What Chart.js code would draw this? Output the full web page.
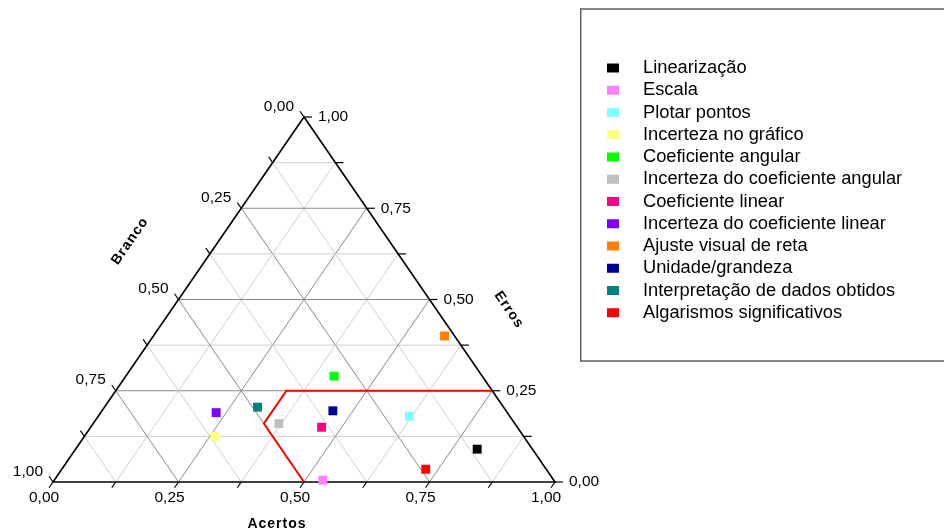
<!DOCTYPE html>
<html>
<head>
<meta charset="utf-8">
<script src="https://cdn.jsdelivr.net/npm/chart.js@4"></script>
<style>
  html, body { margin: 0; padding: 0; background: #ffffff; }
  #wrap { width: 944px; height: 532px; position: relative; }
</style>
</head>
<body>
<div id="wrap"><canvas id="chart" width="944" height="532"></canvas></div>
<script>
// Ternary composition per topic: fraction of right answers, wrong answers and blanks
const categories = [
  'Linearização', 'Escala', 'Plotar pontos', 'Incerteza no gráfico',
  'Coeficiente angular', 'Incerteza do coeficiente angular', 'Coeficiente linear',
  'Incerteza do coeficiente linear', 'Ajuste visual de reta', 'Unidade/grandeza',
  'Interpretação de dados obtidos', 'Algarismos significativos'
];
const acertos = [0.80, 0.535, 0.62, 0.26, 0.415, 0.37, 0.46, 0.23, 0.58, 0.46, 0.305, 0.725];
const erros   = [0.09, 0.005, 0.18, 0.125, 0.29, 0.16, 0.15, 0.19, 0.40, 0.195, 0.205, 0.035];
const branco  = [0.11, 0.46, 0.20, 0.615, 0.295, 0.47, 0.39, 0.58, 0.02, 0.345, 0.49, 0.24];
const colors = [
  '#000000', '#ff80ff', '#80ffff', '#ffff80', '#00ff00', '#c0c0c0',
  '#ff0080', '#8000ff', '#ff8000', '#000099', '#008080', '#ff0000'
];

// Highlighted region boundary (Acertos, Erros, Branco at each vertex)
const regionAcertos = [0.50, 0.34, 0.34, 0.75];
const regionErros   = [0.00, 0.16, 0.25, 0.25];
const regionBranco  = [0.50, 0.50, 0.41, 0.00];

// Tick labels along each side
const tickValues = [0, 0.25, 0.5, 0.75, 1];
const tickLabels = ['0,00', '0,25', '0,50', '0,75', '1,00'];

// Ternary -> cartesian (x along the base, y = height fraction)
function project(a, e, b) {
  const s = a + e + b;
  return { x: (a + e / 2) / s, y: e / s };
}

const FONT = "'Liberation Sans', Arial, sans-serif";

const datasets = categories.map((name, i) => ({
  label: name,
  data: [project(acertos[i], erros[i], branco[i])],
  backgroundColor: colors[i],
  borderColor: colors[i],
  borderWidth: 0,
  pointStyle: 'rect',
  pointRadius: 6.3,
  pointHoverRadius: 6.3,
  clip: false,
  order: 1
}));

datasets.unshift({
  label: '__region',
  data: regionAcertos.map((a, i) => project(a, regionErros[i], regionBranco[i])),
  showLine: true,
  borderColor: '#ff0000',
  borderWidth: 2,
  pointRadius: 0,
  fill: false,
  clip: false,
  order: 2
});

function ternaryPx(chart, a, e) {
  const xs = chart.scales.x, ys = chart.scales.y;
  return { x: xs.getPixelForValue(a + e / 2), y: ys.getPixelForValue(e) };
}

function line(ctx, p, q) {
  ctx.beginPath();
  ctx.moveTo(p.x, p.y);
  ctx.lineTo(q.x, q.y);
  ctx.stroke();
}

const ternaryFrame = {
  id: 'ternaryFrame',
  beforeDatasetsDraw(chart) {
    const ctx = chart.ctx;
    ctx.save();
    ctx.lineWidth = 1;
    for (let k = 1; k < 8; k++) {
      const v = k / 8;
      ctx.strokeStyle = (k % 2 === 0) ? '#8a8a8a' : '#cfcfcf';
      // constant Erros (horizontal)
      line(ctx, ternaryPx(chart, 0, v), ternaryPx(chart, 1 - v, v));
      // constant Acertos
      line(ctx, ternaryPx(chart, v, 0), ternaryPx(chart, v, 1 - v));
      // constant Branco
      line(ctx, ternaryPx(chart, 1 - v, 0), ternaryPx(chart, 0, 1 - v));
    }
    // outer triangle
    const L = ternaryPx(chart, 0, 0), R = ternaryPx(chart, 1, 0), T = ternaryPx(chart, 0, 1);
    ctx.strokeStyle = '#000000';
    ctx.lineWidth = 1.6;
    ctx.beginPath();
    ctx.moveTo(L.x, L.y); ctx.lineTo(R.x, R.y); ctx.lineTo(T.x, T.y); ctx.closePath();
    ctx.stroke();

    // tick directions
    const len = Math.hypot(T.x - L.x, T.y - L.y);
    const dDown = { x: (L.x - T.x) / len, y: (L.y - T.y) / len };   // along Acertos lines, outward
    const dLeft = { x: (T.x - R.x) / len, y: (T.y - R.y) / len };   // along Branco lines, outward
    const tl = 7;
    ctx.lineWidth = 1.2;
    for (let k = 0; k <= 8; k++) {
      const v = k / 8;
      // bottom (Acertos)
      const pb = ternaryPx(chart, v, 0);
      line(ctx, pb, { x: pb.x + dDown.x * tl, y: pb.y + dDown.y * tl });
      // right (Erros)
      const pr = ternaryPx(chart, 1 - v, v);
      line(ctx, pr, { x: pr.x + 8, y: pr.y });
      // left (Branco)
      const pl = ternaryPx(chart, 0, 1 - v);
      line(ctx, pl, { x: pl.x + dLeft.x * tl, y: pl.y + dLeft.y * tl });
    }

    // tick labels
    ctx.fillStyle = '#000000';
    ctx.font = '15.5px ' + FONT;
    ctx.textBaseline = 'middle';
    tickValues.forEach((v, i) => {
      const pb = ternaryPx(chart, v, 0);
      ctx.textAlign = 'center';
      ctx.fillText(tickLabels[i], pb.x + dDown.x * tl - 5, pb.y + 16);
      const pr = ternaryPx(chart, 1 - v, v);
      ctx.textAlign = 'left';
      ctx.fillText(tickLabels[i], pr.x + 14, pr.y);
      const pl = ternaryPx(chart, 0, 1 - v);
      ctx.textAlign = 'right';
      ctx.fillText(tickLabels[i], pl.x + dLeft.x * tl - 6, pl.y + dLeft.y * tl - 5);
    });

    // axis titles
    const ang = Math.atan2(T.y - L.y, T.x - L.x);
    ctx.font = 'bold 14px ' + FONT;
    ctx.letterSpacing = '1px';
    ctx.textAlign = 'center';
    ctx.fillText('Acertos', 277, 524);
    ctx.save();
    ctx.translate(130, 241);
    ctx.rotate(ang);
    ctx.fillText('Branco', 0, 0);
    ctx.restore();
    ctx.save();
    ctx.translate(509, 310);
    ctx.rotate(-ang);
    ctx.fillText('Erros', 0, 0);
    ctx.restore();
    ctx.restore();
  }
};

const boxLegend = {
  id: 'boxLegend',
  afterDraw(chart) {
    const ctx = chart.ctx;
    ctx.save();
    ctx.strokeStyle = '#606060';
    ctx.lineWidth = 1.5;
    ctx.strokeRect(580.75, 9, 400, 352);
    ctx.font = '18.3px ' + FONT;
    ctx.textAlign = 'left';
    ctx.textBaseline = 'middle';
    categories.forEach((name, i) => {
      const y = 68 + i * 22.25;
      ctx.fillStyle = colors[i];
      ctx.fillRect(607, y - 4.5, 12, 9);
      ctx.fillStyle = '#000000';
      ctx.fillText(name, 643, y);
    });
    ctx.restore();
  }
};

new Chart(document.getElementById('chart'), {
  type: 'scatter',
  data: { datasets },
  options: {
    responsive: false,
    animation: false,
    layout: { padding: { left: 53, top: 117, right: 389, bottom: 50 } },
    scales: {
      x: { type: 'linear', min: 0, max: 1, display: false },
      y: { type: 'linear', min: 0, max: 1, display: false }
    },
    plugins: {
      legend: { display: false },
      tooltip: { enabled: false },
      title: { display: false }
    }
  },
  plugins: [ternaryFrame, boxLegend]
});
</script>
</body>
</html>
